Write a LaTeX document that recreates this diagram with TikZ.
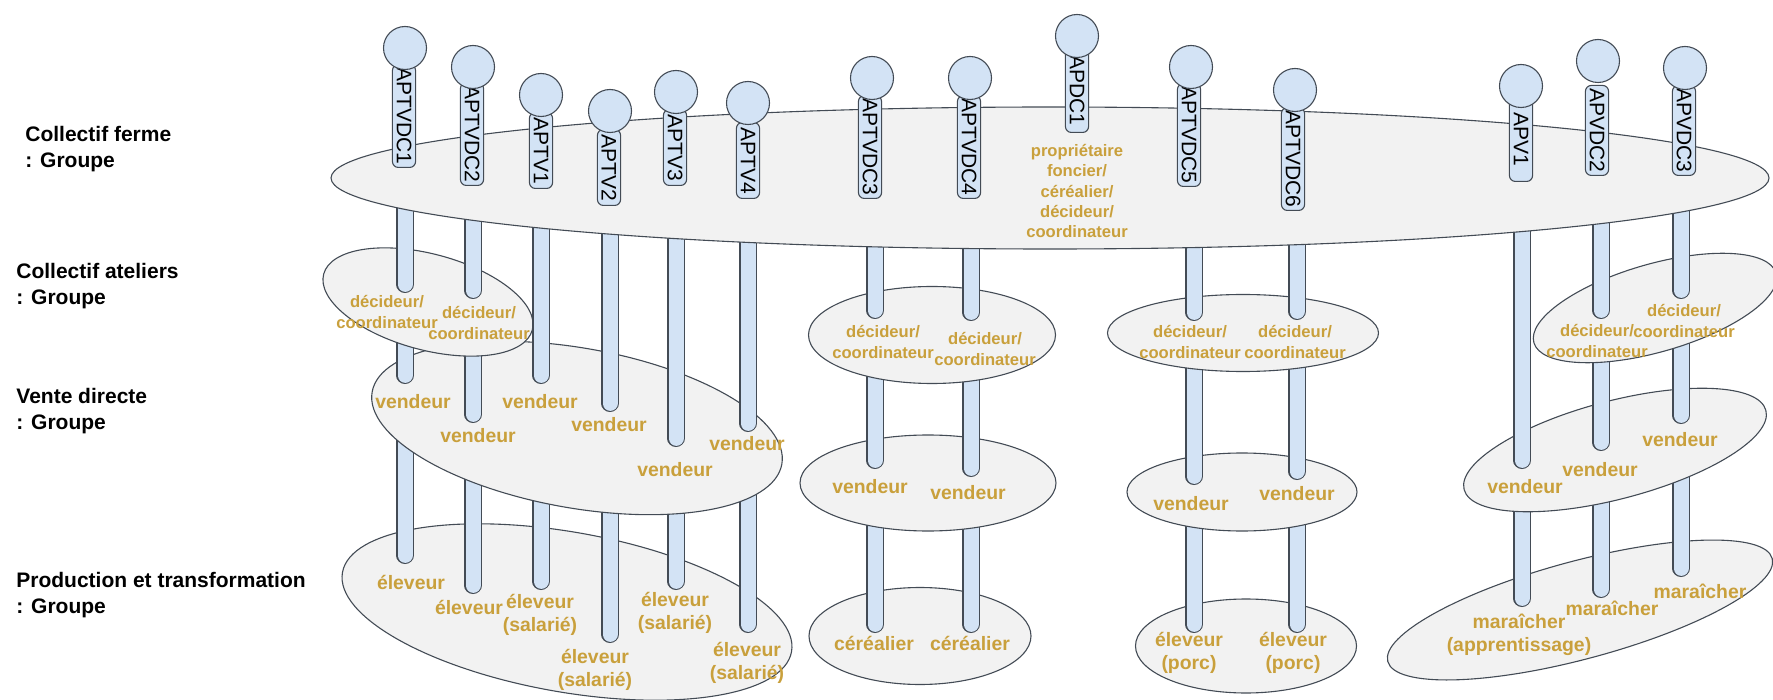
\documentclass[tikz,border=0pt]{standalone}
\usepackage{fontspec}
\setmainfont{Liberation Sans}
\usetikzlibrary{shapes.geometric}
\definecolor{bord}{HTML}{434B55}
\definecolor{bleu}{HTML}{D3E3F5}
\definecolor{gris}{HTML}{F2F2F2}
\definecolor{ocre}{HTML}{C9A03C}

\begin{document}
\begin{tikzpicture}[x=0.5pt, y=-0.5pt,
        groupe/.style={draw=bord, line width=0.55pt, ellipse, fill=gris, inner sep=0pt, outer sep=0pt},
        tube/.style={draw=bord, line width=0.55pt, double=bleu, double distance=7.5pt, line cap=round, shorten >=4.3pt},
        pilule/.style={draw=bord, line width=0.55pt, fill=bleu, rectangle, rounded corners=3pt, rotate=-90, anchor=east, inner xsep=1.5pt, inner ysep=0pt, minimum height=11.6pt, font=\fontsize{10.5}{12}\selectfont},
        tete/.style={draw=bord, line width=0.55pt, fill=bleu, circle, minimum size=21.5pt, inner sep=0pt},
        role/.style={text=ocre, align=center, inner sep=0pt, font=\fontsize{9.7}{11.5}\selectfont\bfseries},
        rolepetit/.style={text=ocre, align=center, inner sep=0pt, font=\fontsize{8.3}{10.2}\selectfont\bfseries},
        niveau/.style={align=left, anchor=west, inner sep=0pt, font=\fontsize{10.5}{13}\selectfont\bfseries}]
        \useasboundingbox (0,0) rectangle (1773,700);

        % centres des groupes
        \coordinate (ferme) at (1050,178);
        \coordinate (ateA) at (428,302);
        \coordinate (ateB) at (932,335);
        \coordinate (ateC) at (1243,333);
        \coordinate (ateD) at (1655,308);
        \coordinate (venA) at (577,428);
        \coordinate (venB) at (928,483);
        \coordinate (venC) at (1242,492);
        \coordinate (venD) at (1615,450);

        % niveau production
        \node[groupe, minimum width=228pt, minimum height=80pt, rotate=-10] (prodA) at (567,612) {};
        \node[groupe, minimum width=111pt, minimum height=48.5pt] (prodB) at (920,636) {};
        \node[groupe, minimum width=110.5pt, minimum height=47pt] (prodC) at (1246,646) {};
        \node[groupe, minimum width=199pt, minimum height=49pt, rotate=15] (prodD) at (1580,610) {};

        \coordinate (aptvdcAbas) at (405,564);
        \coordinate (aptvdcBbas) at (473,594);
        \coordinate (aptvAbas) at (541,590);
        \coordinate (aptvBbas) at (610,643);
        \coordinate (aptvCbas) at (676,590);
        \coordinate (aptvDbas) at (748,633);
        \coordinate (aptvdcCbas) at (875,633);
        \coordinate (aptvdcDbas) at (971,633);
        \coordinate (aptvdcEbas) at (1194,633);
        \coordinate (aptvdcFbas) at (1297,633);
        \coordinate (apvAbas) at (1522,607);
        \coordinate (apvdcBbas) at (1601,598);
        \coordinate (apvdcCbas) at (1681,577);

        \draw[tube] (aptvdcAbas |- venA) -- (aptvdcAbas);
        \draw[tube] (aptvdcBbas |- venA) -- (aptvdcBbas);
        \draw[tube] (aptvAbas |- venA) -- (aptvAbas);
        \draw[tube] (aptvBbas |- venA) -- (aptvBbas);
        \draw[tube] (aptvCbas |- venA) -- (aptvCbas);
        \draw[tube] (aptvDbas |- venA) -- (aptvDbas);
        \draw[tube] (aptvdcCbas |- venB) -- (aptvdcCbas);
        \draw[tube] (aptvdcDbas |- venB) -- (aptvdcDbas);
        \draw[tube] (aptvdcEbas |- venC) -- (aptvdcEbas);
        \draw[tube] (aptvdcFbas |- venC) -- (aptvdcFbas);
        \draw[tube] (apvAbas |- venD) -- (apvAbas);
        \draw[tube] (apvdcBbas |- venD) -- (apvdcBbas);
        \draw[tube] (apvdcCbas |- venD) -- (apvdcCbas);

        % niveau vente
        \node[groupe, minimum width=208pt, minimum height=80pt, rotate=-10] (venteA) at (venA) {};
        \node[groupe, minimum width=128pt, minimum height=48pt] (venteB) at (venB) {};
        \node[groupe, minimum width=115pt, minimum height=39pt] (venteC) at (venC) {};
        \node[groupe, minimum width=156pt, minimum height=49pt, rotate=14.7] (venteD) at (venD) {};

        \coordinate (aptvdcAmil) at (405,384);
        \coordinate (aptvdcBmil) at (473,423);
        \coordinate (aptvAmil) at (541,384);
        \coordinate (aptvBmil) at (610,412);
        \coordinate (aptvCmil) at (676,447);
        \coordinate (aptvDmil) at (748,432);
        \coordinate (aptvdcCmil) at (875,469);
        \coordinate (aptvdcDmil) at (971,477);
        \coordinate (aptvdcEmil) at (1194,485);
        \coordinate (aptvdcFmil) at (1297,480);
        \coordinate (apvAmil) at (1522,469);
        \coordinate (apvdcBmil) at (1601,451);
        \coordinate (apvdcCmil) at (1681,424);

        \draw[tube] (aptvdcAmil |- ateA) -- (aptvdcAmil);
        \draw[tube] (aptvdcBmil |- ateA) -- (aptvdcBmil);
        \draw[tube] (aptvdcCmil |- ateB) -- (aptvdcCmil);
        \draw[tube] (aptvdcDmil |- ateB) -- (aptvdcDmil);
        \draw[tube] (aptvdcEmil |- ateC) -- (aptvdcEmil);
        \draw[tube] (aptvdcFmil |- ateC) -- (aptvdcFmil);
        \draw[tube] (apvdcBmil |- ateD) -- (apvdcBmil);
        \draw[tube] (apvdcCmil |- ateD) -- (apvdcCmil);

        % niveau ateliers
        \node[groupe, minimum width=108pt, minimum height=48pt, rotate=-15] (atelierA) at (ateA) {};
        \node[groupe, minimum width=123.5pt, minimum height=48.5pt] (atelierB) at (ateB) {};
        \node[groupe, minimum width=135.5pt, minimum height=38.5pt] (atelierC) at (ateC) {};
        \node[groupe, minimum width=126pt, minimum height=44pt, rotate=16] (atelierD) at (ateD) {};

        \coordinate (aptvdcAhaut) at (405,293);
        \coordinate (aptvdcBhaut) at (473,299);
        \coordinate (aptvdcChaut) at (875,319);
        \coordinate (aptvdcDhaut) at (971,321);
        \coordinate (aptvdcEhaut) at (1194,321);
        \coordinate (aptvdcFhaut) at (1297,320);
        \coordinate (apvdcBhaut) at (1601,319);
        \coordinate (apvdcChaut) at (1681,299);

        \draw[tube] (aptvdcAhaut |- ferme) -- (aptvdcAhaut);
        \draw[tube] (aptvdcBhaut |- ferme) -- (aptvdcBhaut);
        \draw[tube] (aptvAmil |- ferme) -- (aptvAmil);
        \draw[tube] (aptvBmil |- ferme) -- (aptvBmil);
        \draw[tube] (aptvCmil |- ferme) -- (aptvCmil);
        \draw[tube] (aptvDmil |- ferme) -- (aptvDmil);
        \draw[tube] (aptvdcChaut |- ferme) -- (aptvdcChaut);
        \draw[tube] (aptvdcDhaut |- ferme) -- (aptvdcDhaut);
        \draw[tube] (aptvdcEhaut |- ferme) -- (aptvdcEhaut);
        \draw[tube] (aptvdcFhaut |- ferme) -- (aptvdcFhaut);
        \draw[tube] (apvAmil |- ferme) -- (apvAmil);
        \draw[tube] (apvdcBhaut |- ferme) -- (apvdcBhaut);
        \draw[tube] (apvdcChaut |- ferme) -- (apvdcChaut);

        % niveau ferme
        \node[groupe, minimum width=719pt, minimum height=71pt] (collectif) at (ferme) {};

        % acteurs
        \node[pilule] (aptvdcA) at (404,168) {APTVDC1};
        \node[pilule] (aptvdcB) at (472,186) {APTVDC2};
        \node[pilule, minimum width=38pt] (aptvA) at (541,189) {APTV1};
        \node[pilule, minimum width=38pt] (aptvB) at (609,206) {APTV2};
        \node[pilule, minimum width=38pt] (aptvC) at (675,186) {APTV3};
        \node[pilule, minimum width=38pt] (aptvD) at (748,199) {APTV4};
        \node[pilule] (aptvdcC) at (870,199) {APTVDC3};
        \node[pilule] (aptvdcD) at (969,199) {APTVDC4};
        \node[pilule, minimum width=42pt] (apdc) at (1077,133) {APDC1};
        \node[pilule] (aptvdcE) at (1189,187) {APTVDC5};
        \node[pilule] (aptvdcF) at (1293,211) {APTVDC6};
        \node[pilule, minimum width=42pt] (apvA) at (1521,182) {APV1};
        \node[pilule] (apvdcB) at (1597,176) {APVDC2};
        \node[pilule] (apvdcC) at (1684,176) {APVDC3};

        \node[tete] (teteA) at (405,48) {};
        \node[tete] (teteB) at (473,67) {};
        \node[tete] (teteC) at (541,95) {};
        \node[tete] (teteD) at (610,111) {};
        \node[tete] (teteE) at (676,92) {};
        \node[tete] (teteF) at (748,103) {};
        \node[tete] (teteG) at (872,78) {};
        \node[tete] (teteH) at (970,78) {};
        \node[tete] (teteI) at (1077,36) {};
        \node[tete] (teteJ) at (1191,67) {};
        \node[tete] (teteK) at (1295,90) {};
        \node[tete] (teteL) at (1521,86) {};
        \node[tete] (teteM) at (1598,61) {};
        \node[tete] (teteN) at (1685,68) {};

        % roles
        \node[rolepetit] (roleferme) at (1077,191) {propriétaire\\foncier/\\céréalier/\\décideur/\\coordinateur};
        \node[rolepetit] (decA) at (387,312) {décideur/\\coordinateur};
        \node[rolepetit] (decB) at (479,323) {décideur/\\coordinateur};
        \node[rolepetit] (decC) at (883,342) {décideur/\\coordinateur};
        \node[rolepetit] (decD) at (985,349) {décideur/\\coordinateur};
        \node[rolepetit] (decE) at (1190,342) {décideur/\\coordinateur};
        \node[rolepetit] (decF) at (1295,342) {décideur/\\coordinateur};
        \node[rolepetit] (decG) at (1597,341) {décideur/\\coordinateur};
        \node[rolepetit] (decH) at (1684,321) {décideur/\\coordinateur};

        \node[role] (vdA) at (413,402) {vendeur};
        \node[role] (vdB) at (478,436) {vendeur};
        \node[role] (vdC) at (540,402) {vendeur};
        \node[role] (vdD) at (609,425) {vendeur};
        \node[role] (vdE) at (675,470) {vendeur};
        \node[role] (vdF) at (747,444) {vendeur};
        \node[role] (vdG) at (870,487) {vendeur};
        \node[role] (vdH) at (968,493) {vendeur};
        \node[role] (vdI) at (1191,504) {vendeur};
        \node[role] (vdJ) at (1297,494) {vendeur};
        \node[role] (vdK) at (1525,487) {vendeur};
        \node[role] (vdL) at (1600,470) {vendeur};
        \node[role] (vdM) at (1680,440) {vendeur};

        \node[role] (eleA) at (411,582) {éleveur};
        \node[role] (eleB) at (469,607) {éleveur};
        \node[role] (eleC) at (540,615) {éleveur\\(salarié)};
        \node[role] (eleD) at (595,670) {éleveur\\(salarié)};
        \node[role] (eleE) at (675,613) {éleveur\\(salarié)};
        \node[role] (eleF) at (747,663) {éleveur\\(salarié)};
        \node[role] (cerA) at (874,643) {céréalier};
        \node[role] (cerB) at (970,643) {céréalier};
        \node[role] (eleG) at (1189,653) {éleveur\\(porc)};
        \node[role] (eleH) at (1293,653) {éleveur\\(porc)};
        \node[role] (marA) at (1519,635) {maraîcher\\(apprentissage)};
        \node[role] (marB) at (1612,608) {maraîcher};
        \node[role] (marC) at (1700,591) {maraîcher};

        % titres des niveaux
        \node[niveau] (titreferme) at (25,149) {Collectif ferme\\: Groupe};
        \node[niveau] (titreatelier) at (16,286) {Collectif ateliers\\: Groupe};
        \node[niveau] (titrevente) at (16,411) {Vente directe\\: Groupe};
        \node[niveau] (titreprod) at (16,595) {Production et transformation\\: Groupe};
    \end{tikzpicture}
\end{document}
